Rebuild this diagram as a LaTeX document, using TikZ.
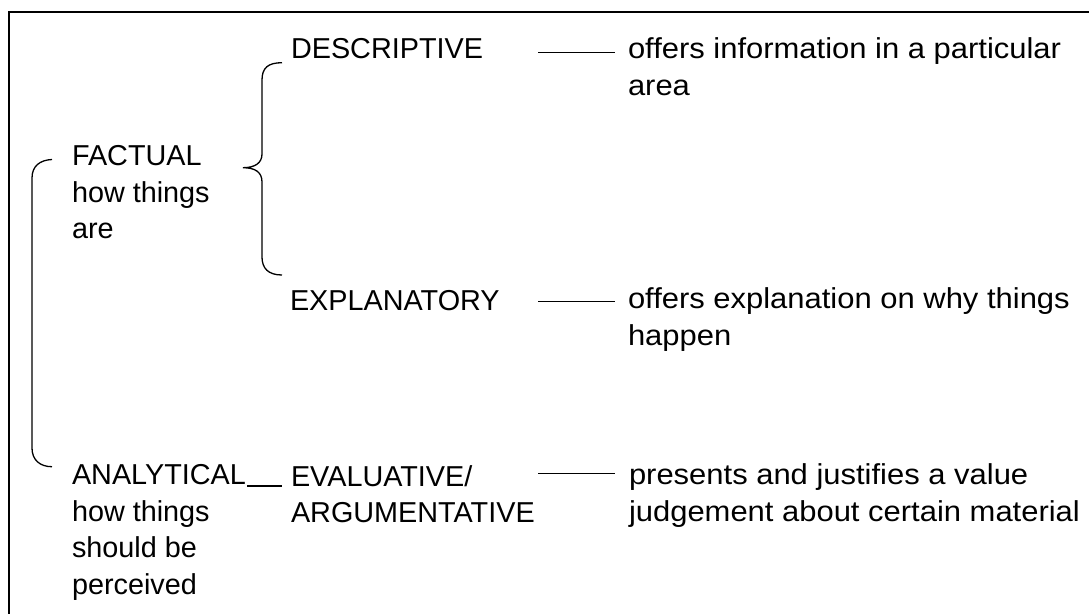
\documentclass[tikz,border=0pt]{standalone}
\usepackage{fontspec}
\setmainfont{Liberation Sans}
\newfontfamily\widefont[FakeStretch=1.075]{Liberation Sans}
\begin{document}
\begin{tikzpicture}[x=1pt,y=-1pt,
  txt/.style={inner sep=0pt, outer sep=0pt, align=left, font=\fontsize{28.8}{36.7}\selectfont},
  desctxt/.style={txt, font=\widefont\fontsize{28.8}{36.7}\selectfont},
  conn/.style={line width=1.3pt},
  brace/.style={line width=1.3pt},
  frame/.style={line width=2pt}]
\useasboundingbox (0,0) rectangle (1089,614);
% frame (top and left edges visible)
\draw[frame] (1089,12) -- (9,12) -- (9,614);

% left column
\node[txt, anchor=north west] (fact) at (72,145.4) {FACTUAL\\how things\\are};
\node[txt, anchor=north west] (ana) at (72,464.4) {ANALYTICAL\\how things\\should be\\perceived};

% middle column
\node[txt, anchor=base west] (desc) at (291,58) {DESCRIPTIVE};
\node[txt, anchor=base west] (expl) at (290,310) {EXPLANATORY};
\node[txt, anchor=north west] (eval) at (291,465.4) {EVALUATIVE/\\ARGUMENTATIVE};

% right column
\node[desctxt, anchor=north west] (d1) at (628,38) {offers information in a particular\\area};
\node[desctxt, anchor=north west] (d2) at (628,288) {offers explanation on why things\\happen};
\node[desctxt, anchor=north west] (d3) at (629,464) {presents and justifies a value\\judgement about certain material};

% connector end points
\coordinate (c1a) at (538,52.7);  \coordinate (c1b) at (615,52.7);
\coordinate (c2a) at (538,301.7); \coordinate (c2b) at (615,301.7);
\coordinate (c3a) at (538,473.3); \coordinate (c3b) at (615,473.3);
\coordinate (c4a) at (247,486);   \coordinate (c4b) at (282,486);

\draw[conn] (c1a) -- (c1b);
\draw[conn] (c2a) -- (c2b);
\draw[conn] (c3a) -- (c3b);
\draw[conn] (c4a) -- (c4b);

% brace between FACTUAL and DESCRIPTIVE / EXPLANATORY
\draw[brace] (282,62.7) .. controls (268,62.7) and (262,68) .. (262,80)
  -- (262,154) .. controls (262,163) and (255,167.7) .. (243,167.7)
  .. controls (255,167.7) and (262,172) .. (262,182)
  -- (262,257) .. controls (262,268) and (268,275) .. (282,275);

% bracket joining FACTUAL and ANALYTICAL
\draw[brace] (52,159.5) .. controls (40,160) and (32,166) .. (32,178)
  -- (32,448) .. controls (32,460) and (40,466.7) .. (52,466.7);
\end{tikzpicture}
\end{document}
